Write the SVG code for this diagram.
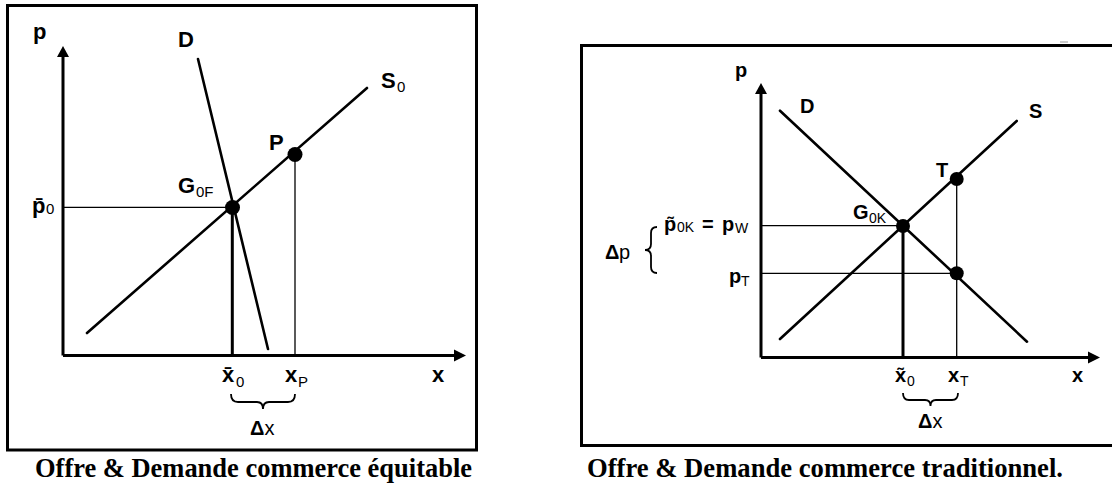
<svg xmlns="http://www.w3.org/2000/svg" width="1112" height="485" viewBox="0 0 1112 485">
<style>
.frame{fill:none;stroke:#000;stroke-width:3}
.axis{stroke:#000;stroke-width:3;fill:none}
.curve{stroke:#000;stroke-width:2.6;fill:none;stroke-linecap:round}
.thin{stroke:#000;stroke-width:1.3;fill:none}
.thick{stroke:#000;stroke-width:3;fill:none}
.brace{stroke:#000;stroke-width:1.8;fill:none}
.pt{fill:#000}
.lbl{font-family:"Liberation Sans",Arial,sans-serif;font-weight:bold;font-size:22px;fill:#000}
.lbls{font-family:"Liberation Sans",Arial,sans-serif;font-weight:bold;font-size:20px;fill:#000}
.sub{font-size:15px;font-weight:normal}
.subs{font-size:14px;font-weight:normal}
.reg{font-weight:normal}
.cap{font-family:"Liberation Serif","Times New Roman",serif;font-weight:bold;font-size:26.5px;fill:#000}
</style>
<rect width="1112" height="485" fill="#fff"/>

<!-- LEFT PANEL -->
<g id="left-panel">
  <rect class="frame" x="7.5" y="5.5" width="469" height="444.5"/>
  <g id="left-axes">
    <line class="axis" x1="63" y1="355.5" x2="63" y2="54"/>
    <polygon points="63,46 57,57 69,57"/>
    <line class="axis" x1="63" y1="355.5" x2="457" y2="355.5"/>
    <polygon points="466,355.5 454,349.5 454,361.5"/>
  </g>
  <g id="left-connectors">
    <line class="curve" x1="87" y1="333" x2="367" y2="88"/>
    <line class="curve" x1="198" y1="59" x2="268" y2="349"/>
    <line class="thin" x1="63" y1="207.3" x2="232" y2="207.3"/>
    <line class="thick" x1="232.3" y1="207" x2="232.3" y2="355"/>
    <line class="thin" x1="295" y1="154" x2="295" y2="355"/>
    <path class="brace" d="M231,394 Q231,402 238,402 L257,402 Q263,402 263,409 Q263,402 269,402 L288,402 Q295,402 295,394"/>
  </g>
  <g id="node-G0F"><circle class="pt" cx="232.5" cy="207.5" r="7.5"/>
    <text class="lbl" x="178" y="193">G<tspan class="sub" x="196" y="197">0F</tspan></text></g>
  <g id="node-P"><circle class="pt" cx="295" cy="154.5" r="7.5"/>
    <text class="lbl" x="269" y="150">P</text></g>
  <g id="left-labels">
    <text class="lbl" x="33" y="39">p</text>
    <text class="lbl" x="178" y="47">D</text>
    <text class="lbl" x="381" y="88">S<tspan class="sub" x="397" y="92">0</tspan></text>
    <text class="lbl" x="32" y="213">p&#x304;<tspan class="sub" x="46" y="214">0</tspan></text>
    <text class="lbl" x="222" y="382">x&#x304;<tspan class="sub" x="236" y="387">0</tspan></text>
    <text class="lbl" x="285" y="382">x<tspan class="sub" font-weight="bold" x="298" y="387">P</tspan></text>
    <text class="lbl" x="432" y="382">x</text>
    <text class="lbls" x="250" y="435">Δ<tspan class="reg">x</tspan></text>
  </g>
  <text class="cap" x="35" y="477" textLength="437" lengthAdjust="spacingAndGlyphs">Offre &amp; Demande commerce équitable</text>
</g>

<!-- RIGHT PANEL -->
<g id="right-panel">
  <rect class="frame" x="581.5" y="45.5" width="545" height="400"/>
  <line x1="1060" y1="42" x2="1068" y2="42" stroke="#999" stroke-width="1"/>
  <g id="right-axes">
    <line class="axis" x1="761" y1="357.5" x2="761" y2="91"/>
    <polygon points="761,83 755,94 767,94"/>
    <line class="axis" x1="761" y1="357.5" x2="1091" y2="357.5"/>
    <polygon points="1100,357.5 1088,351.5 1088,363.5"/>
  </g>
  <g id="right-connectors">
    <line class="curve" x1="780" y1="110.7" x2="1027" y2="341.7"/>
    <line class="curve" x1="780" y1="339" x2="1016.7" y2="121"/>
    <line class="thin" x1="761" y1="225.7" x2="903" y2="225.7"/>
    <line class="thin" x1="761" y1="273.3" x2="956.7" y2="273.3"/>
    <line class="thick" x1="903" y1="225.7" x2="903" y2="357.5"/>
    <line class="thin" x1="956.7" y1="179" x2="956.7" y2="357.5"/>
    <path class="brace" d="M657,227 Q651,227 651,233 L651,244 Q651,250 645,250 Q651,250 651,256 L651,267 Q651,273 657,273"/>
    <path class="brace" d="M903,393 Q903,400 909,400 L925,400 Q930.5,400 930.5,406 Q930.5,400 936,400 L952,400 Q958,400 958,393"/>
  </g>
  <g id="node-G0K"><circle class="pt" cx="903" cy="226" r="7"/>
    <text class="lbls" x="853" y="219">G<tspan class="subs" x="869" y="223">0K</tspan></text></g>
  <g id="node-T"><circle class="pt" cx="956.7" cy="179" r="7"/>
    <text class="lbls" x="936" y="177">T</text></g>
  <g id="node-pT"><circle class="pt" cx="956.7" cy="273.3" r="7"/></g>
  <g id="right-labels">
    <text class="lbls" x="735" y="77">p</text>
    <text class="lbls" x="800" y="113">D</text>
    <text class="lbls" x="1029" y="118">S</text>
    <text class="lbls" x="664" y="231">p&#x303;<tspan class="subs" x="677" y="232">0K</tspan><tspan x="702" y="231">=</tspan><tspan x="722" y="231">p</tspan><tspan class="subs" x="735" y="233">W</tspan></text>
    <text class="lbls" x="729" y="283">p<tspan class="subs" font-weight="bold" x="741" y="286">T</tspan></text>
    <text class="lbls" x="605" y="259">Δ<tspan class="reg" x="619">p</tspan></text>
    <text class="lbls" x="895" y="382">x&#x303;<tspan class="subs" x="907" y="386">0</tspan></text>
    <text class="lbls" x="948" y="382">x<tspan class="subs" x="960" y="386">T</tspan></text>
    <text class="lbls" x="1072" y="382">x</text>
    <text class="lbls" x="918" y="428">Δ<tspan class="reg">x</tspan></text>
  </g>
  <text class="cap" x="587" y="477" textLength="476" lengthAdjust="spacingAndGlyphs">Offre &amp; Demande commerce traditionnel.</text>
</g>
</svg>
